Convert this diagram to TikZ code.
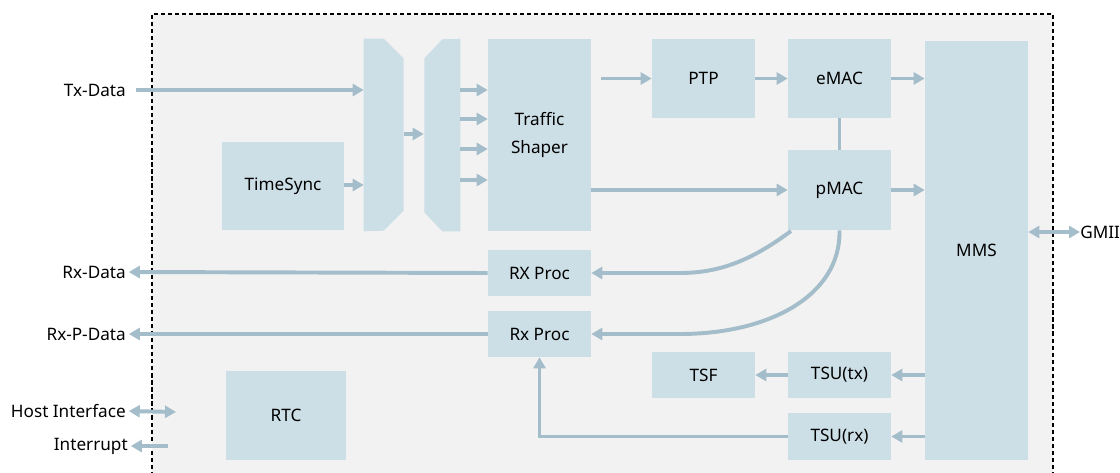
\documentclass[tikz,border=0pt]{standalone}
\usepackage{fontspec}
\setmainfont{Noto Sans}
\usetikzlibrary{arrows.meta}
\definecolor{boxblue}{RGB}{205,223,230}
\definecolor{arrowblue}{RGB}{164,189,203}
\definecolor{panelgrey}{RGB}{242,242,242}

\begin{document}
\begin{tikzpicture}[x=0.025cm,y=-0.025cm,
  blk/.style={fill=boxblue,inner sep=0pt,align=center,minimum width=2.575cm,
    font=\fontsize{12.2}{20.5}\selectfont},
  lbl/.style={inner sep=0pt,font=\fontsize{12.2}{14}\selectfont},
  arr/.style={draw=arrowblue,line width=2.8pt,-{Triangle[length=7.8pt,width=8.5pt]}},
  darr/.style={arr,{Triangle[length=7.8pt,width=8.5pt]}-{Triangle[length=7.8pt,width=8.5pt]}},
  wire/.style={draw=arrowblue,line width=2.8pt}]
\useasboundingbox (0,0) rectangle (1120,473);
% dashed panel, open at the bottom
\draw[fill=panelgrey,line width=0.8pt,dash pattern=on 3pt off 2pt] (152,490) -- (152,14) -- (1053,14) -- (1053,490);

% blocks
\node[blk,minimum width=3.05cm,minimum height=2.2cm] (timesync) at (283,186) {TimeSync};
\node[minimum width=1.0cm,minimum height=4.8cm,inner sep=0pt] (mux1) at (384,135) {};
\node[minimum width=0.9cm,minimum height=4.8cm,inner sep=0pt] (mux2) at (442,135) {};
\fill[boxblue] (mux1.north west) -- ++(20,0) -- ++(20,20) -- ++(0,152) -- ++(-20,20) -- (mux1.south west) -- cycle;
\fill[boxblue] (mux2.north east) -- (mux2.south east) -- ++(-18,0) -- ++(-18,-19) -- ++(0,-154) -- ++(18,-19) -- cycle;
\node[blk,minimum height=4.8cm] (shaper) at (539.5,135) {Traffic\\Shaper};
\node[blk,minimum height=1.975cm] (ptp) at (703.5,78.5) {PTP};
\node[blk,minimum height=1.975cm] (emac) at (839.5,78.5) {eMAC};
\node[blk,minimum height=2.0cm] (pmac) at (839.5,190) {pMAC};
\node[blk,minimum height=10.475cm] (mms) at (976.5,250.5) {MMS};
\node[blk,minimum height=1.15cm] (rx1) at (539.5,273) {RX Proc};
\node[blk,minimum height=1.15cm] (rx2) at (539.5,334) {Rx Proc};
\node[blk,minimum height=1.15cm] (tsf) at (703.5,375) {TSF};
\node[blk,minimum height=1.15cm] (tsutx) at (839.5,375) {TSU(tx)};
\node[blk,minimum height=1.175cm] (tsurx) at (839.5,436.5) {TSU(rx)};
\node[blk,minimum width=3.0cm,minimum height=2.225cm] (rtc) at (286,415.5) {RTC};

% outside signals
\node[lbl,anchor=east] (txdata) at (126,90) {Tx-Data};
\node[lbl,anchor=east] (rxdata) at (126,272) {Rx-Data};
\node[lbl,anchor=east] (rxpdata) at (126,334) {Rx-P-Data};
\node[lbl,anchor=east] (host) at (126,411) {Host Interface};
\node[lbl,anchor=east] (irq) at (128,446) {Interrupt};
\node[lbl,anchor=west] (gmii) at (1080,232) {GMII};
\coordinate (hostend) at (176,412);
\coordinate (irqsrc) at (168,446);

% transmit side
\draw[arr,shorten <=0.25cm] (txdata.east) -- (txdata.east -| mux1.west);
\draw[arr] (timesync.east |- 0,185) -- (mux1.west |- 0,185);
\draw[arr] (mux1.east |- 0,134) -- (mux2.west |- 0,134);
\foreach \y in {90,119,149,180}
  \draw[arr] (mux2.east |- 0,\y) -- (shaper.west |- 0,\y);
\draw[arr,shorten <=0.25cm] (shaper.east |- ptp.west) -- (ptp.west);
\draw[arr] (ptp) -- (emac);
\draw[arr] (emac.east) -- (emac.east -| mms.west);
\draw[wire] (emac) -- (pmac);
\draw[arr] (shaper.east |- pmac.west) -- (pmac.west);
\draw[arr] (pmac.east) -- (pmac.east -| mms.west);
\draw[darr] (mms.east |- gmii.west) -- (gmii.west);

% receive side
\coordinate (pmacsw) at (791,231);
\draw[arr] (pmacsw) .. controls (752,260) and (720,273) .. (680,273) -- (rx1.east);
\draw[arr] (pmac.south) .. controls (841,295) and (770,334) .. (680,334) -- (rx2.east);
\draw[arr,shorten >=2pt] (rx1.west) -- (rxdata.east);
\draw[arr,shorten >=2pt] (rx2.west) -- (rxpdata.east);
\draw[arr] (mms.west |- tsutx.east) -- (tsutx.east);
\draw[arr] (tsutx) -- (tsf);
\draw[arr] (mms.west |- tsurx.east) -- (tsurx.east);
\draw[arr] (tsurx.west) -| (rx2.south);

% host side
\draw[darr,shorten <=2pt] (host.east) -- (hostend);
\draw[arr,shorten >=2pt] (irqsrc) -- (irq.east);
\end{tikzpicture}
\end{document}
